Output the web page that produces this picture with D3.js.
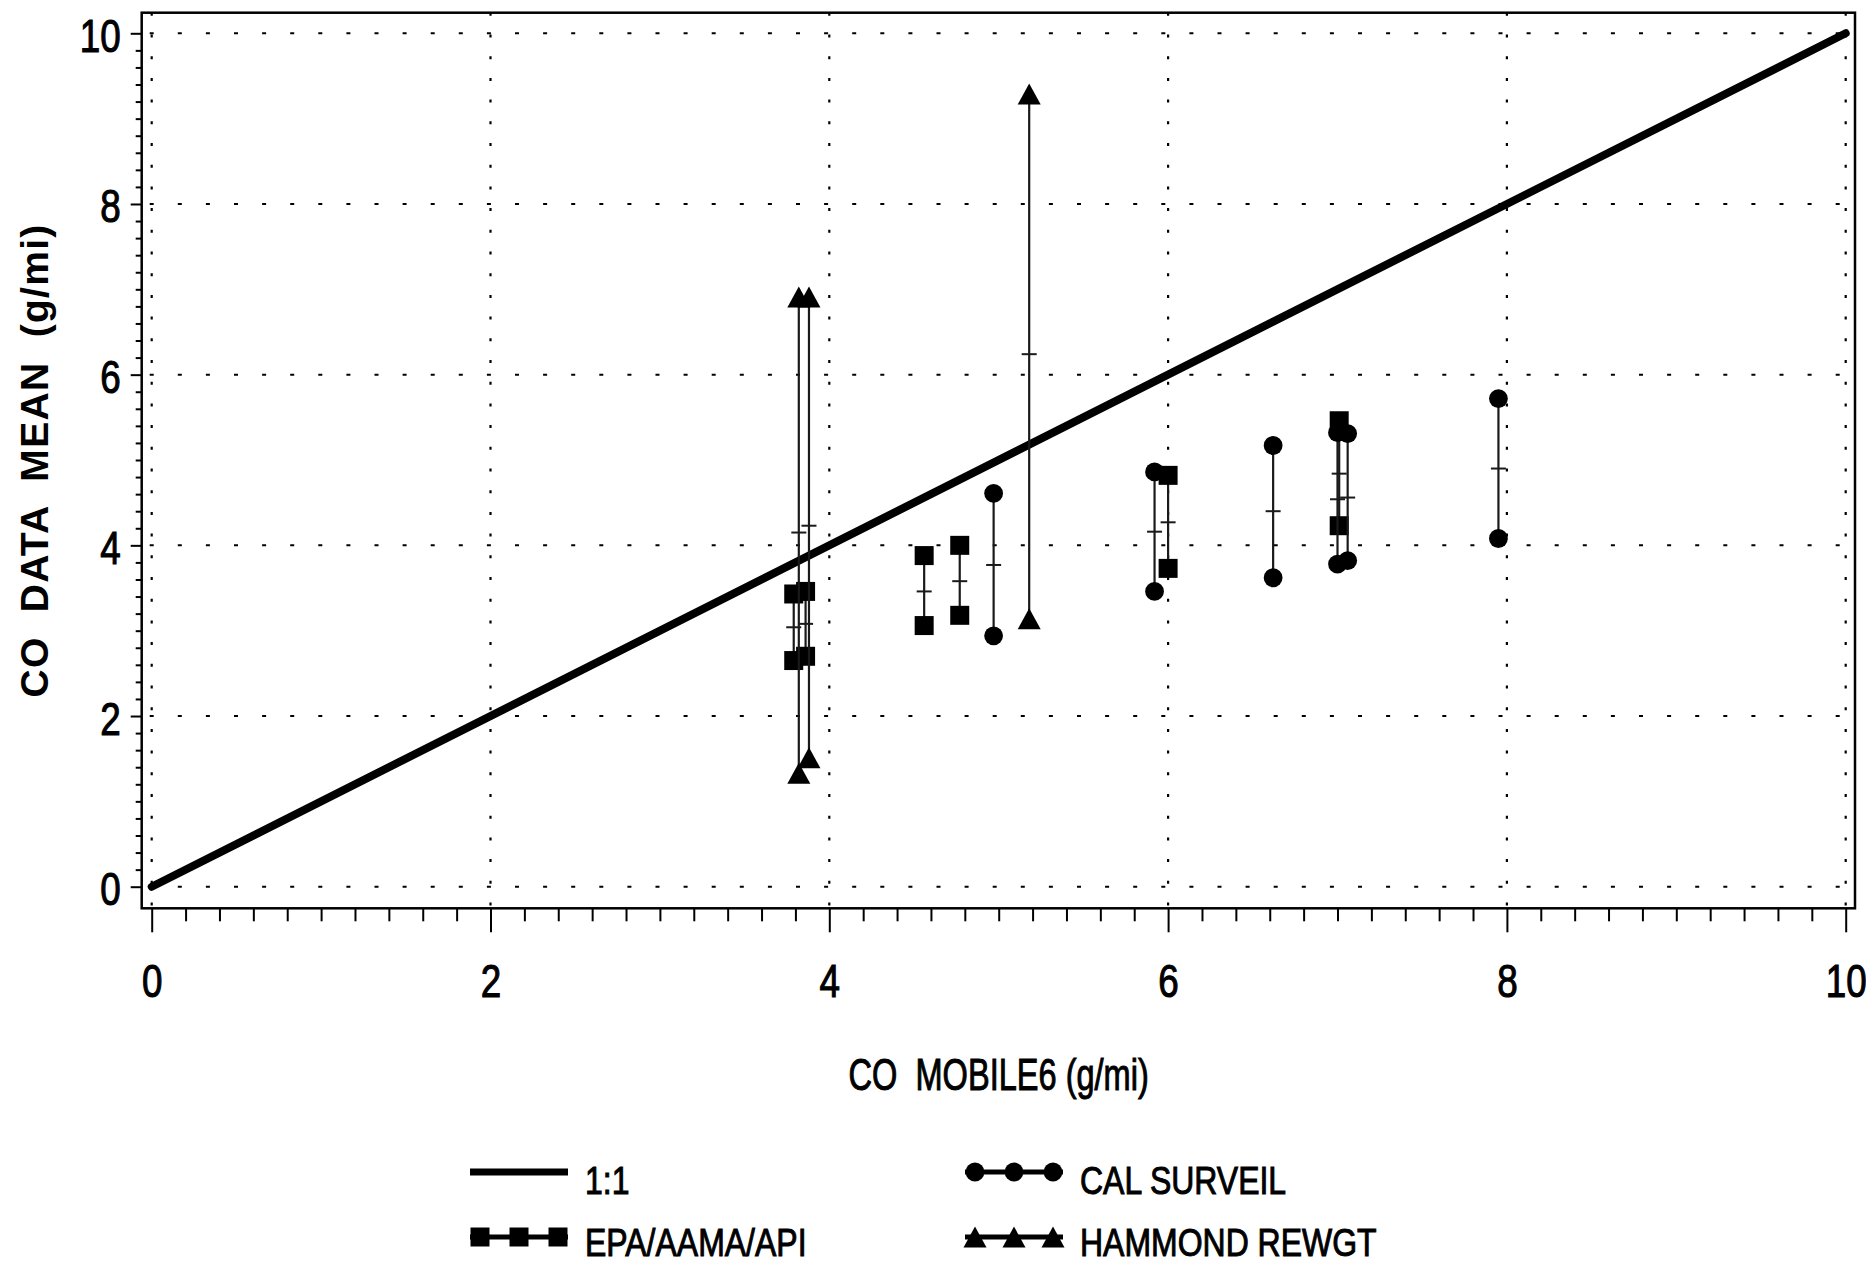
<!DOCTYPE html>
<html><head><meta charset="utf-8">
<script src="https://cdn.jsdelivr.net/npm/d3@7"></script>
<style>
body{margin:0;background:#fff}
svg{display:block}
text{font-family:"Liberation Sans",Arial,sans-serif;fill:#000}
</style>
</head><body>
<svg id="chart" width="1866" height="1264"></svg>
<script>
// ---------- data ----------
const xMajorTicks = [0, 2, 4, 6, 8, 10];
const yMajorTicks = [0, 2, 4, 6, 8, 10];
const xTitle = "CO  MOBILE6 (g/mi)";
const yTitle = "CO  DATA  MEAN  (g/mi)";
const identityLine = [0, 10];

// EPA/AAMA/API (squares)
const epaX    = [3.79, 3.86, 4.56, 4.77, 6.00, 7.01];
const epaHigh = [3.43, 3.46, 3.88, 4.00, 4.82, 5.46];
const epaLow  = [2.65, 2.70, 3.06, 3.18, 3.73, 4.23];
const epaMean = [3.04, 3.08, 3.46, 3.58, 4.27, 4.84];

// CAL SURVEIL (circles)
const calX    = [4.97, 5.92, 6.62, 7.00, 7.06, 7.95];
const calHigh = [4.61, 4.86, 5.17, 5.32, 5.31, 5.72];
const calLow  = [2.94, 3.46, 3.62, 3.78, 3.82, 4.08];
const calMean = [3.77, 4.16, 4.40, 4.54, 4.56, 4.90];

// HAMMOND REWGT (triangles)
const hamX    = [3.82, 3.88, 5.18];
const hamHigh = [6.91, 6.91, 9.29];
const hamLow  = [1.33, 1.51, 3.14];
const hamMean = [4.15, 4.23, 6.24];

const legendNames = ["1:1", "EPA/AAMA/API", "CAL SURVEIL", "HAMMOND REWGT"];
const legendKinds = ["line", "square", "circle", "triangle"];

// ---------- setup ----------
const svg = d3.select("#chart");
const frame = {left: 141.7, right: 1855, top: 12.7, bottom: 908.3};
const x = d3.scaleLinear().domain([0, 10]).range([151.7, 1845.7]);
const y = d3.scaleLinear().domain([0, 10]).range([886.7, 33.3]);

// custom triangle symbol (bbox centred)
const triBox = {
  draw(ctx, size) {
    const w = 23, h = 21;
    ctx.moveTo(0, -h / 2);
    ctx.lineTo(w / 2, h / 2);
    ctx.lineTo(-w / 2, h / 2);
    ctx.closePath();
  }
};
const symbolFor = {
  square: d3.symbol().type(d3.symbolSquare).size(19 * 19),
  circle: d3.symbol().type(d3.symbolCircle).size(Math.PI * 9.4 * 9.4),
  triangle: d3.symbol().type(triBox).size(1)
};

// ---------- gridlines ----------
const grid = svg.append("g");
grid.selectAll("line.h").data(yMajorTicks).join("line")
  .attr("x1", frame.left).attr("x2", frame.right)
  .attr("y1", d => y(d)).attr("y2", d => y(d))
  .attr("stroke", "#000").attr("stroke-width", 2)
  .attr("stroke-dasharray", "4 24.1").attr("stroke-dashoffset", -8);
grid.selectAll("line.v").data(xMajorTicks).join("line")
  .attr("x1", d => x(d)).attr("x2", d => x(d))
  .attr("y1", frame.bottom).attr("y2", frame.top)
  .attr("stroke", "#000").attr("stroke-width", 2.2)
  .attr("stroke-dasharray", "3 18.7").attr("stroke-dashoffset", 18.9);

// ---------- axes ----------
const minorTicks = d3.range(0, 51).map(i => i * 0.2).filter(v => Math.abs(v / 2 - Math.round(v / 2)) > 1e-6);

const xMinor = d3.axisBottom(x).tickValues(minorTicks).tickSize(13).tickFormat("");
const xMajor = d3.axisBottom(x).tickValues(xMajorTicks).tickSize(24).tickFormat(d3.format("d"));
const yMinor = d3.axisLeft(y).tickValues(minorTicks).tickSize(6).tickFormat("");
const yMajor = d3.axisLeft(y).tickValues(yMajorTicks).tickSize(11).tickFormat(d3.format("d"));

function styleAxis(g) {
  g.select(".domain").remove();
  g.selectAll(".tick line").attr("stroke", "#000").attr("stroke-width", 2);
}
svg.append("g").attr("transform", `translate(0,${frame.bottom})`).call(xMinor).call(styleAxis);
const gxM = svg.append("g").attr("transform", `translate(0,${frame.bottom})`).call(xMajor).call(styleAxis);
svg.append("g").attr("transform", `translate(${frame.left},0)`).call(yMinor).call(styleAxis);
const gyM = svg.append("g").attr("transform", `translate(${frame.left},0)`).call(yMajor).call(styleAxis);

gxM.selectAll(".tick text")
  .attr("y", null).attr("dy", null)
  .attr("transform", "translate(0,89) scale(0.8,1)")
  .attr("text-anchor", "middle")
  .style("font-size", "46px").attr("fill", "#000")
  .attr("stroke", "#000").attr("stroke-width", 1.1);
gyM.selectAll(".tick text")
  .attr("x", null).attr("dy", null)
  .attr("transform", "translate(-21,18) scale(0.8,1)")
  .attr("text-anchor", "end")
  .style("font-size", "46px").attr("fill", "#000")
  .attr("stroke", "#000").attr("stroke-width", 1.1);

// ---------- frame ----------
svg.append("rect")
  .attr("x", frame.left).attr("y", frame.top)
  .attr("width", frame.right - frame.left).attr("height", frame.bottom - frame.top)
  .attr("fill", "none").attr("stroke", "#000").attr("stroke-width", 2.5);

// ---------- 1:1 line ----------
svg.append("line")
  .attr("x1", x(identityLine[0])).attr("y1", y(identityLine[0]))
  .attr("x2", x(identityLine[1])).attr("y2", y(identityLine[1]))
  .attr("stroke", "#000").attr("stroke-width", 8).attr("stroke-linecap", "round");

// ---------- series ----------
const series = [
  {kind: "square", xs: epaX, hi: epaHigh, lo: epaLow, mean: epaMean},
  {kind: "circle", xs: calX, hi: calHigh, lo: calLow, mean: calMean},
  {kind: "triangle", xs: hamX, hi: hamHigh, lo: hamLow, mean: hamMean}
];
series.forEach(s => {
  const pts = s.xs.map((xv, i) => ({x: xv, hi: s.hi[i], lo: s.lo[i], m: s.mean[i]}));
  const g = svg.append("g");
  g.selectAll("line.rng").data(pts).join("line")
    .attr("x1", d => x(d.x)).attr("x2", d => x(d.x))
    .attr("y1", d => y(d.lo)).attr("y2", d => y(d.hi))
    .attr("stroke", "#1a1a1a").attr("stroke-width", 2.2);
  g.selectAll("line.mean").data(pts).join("line")
    .attr("x1", d => x(d.x) - 7.5).attr("x2", d => x(d.x) + 7.5)
    .attr("y1", d => y(d.m)).attr("y2", d => y(d.m))
    .attr("stroke", "#1a1a1a").attr("stroke-width", 2);
  const ends = pts.flatMap(d => [{x: d.x, v: d.hi}, {x: d.x, v: d.lo}]);
  g.selectAll("path").data(ends).join("path")
    .attr("d", symbolFor[s.kind])
    .attr("transform", d => `translate(${x(d.x)},${y(d.v)})`)
    .attr("fill", "#000");
});

// ---------- titles ----------
svg.append("text")
  .attr("transform", `translate(${(x(0) + x(10)) / 2},1090) scale(0.74,1)`)
  .attr("text-anchor", "middle")
  .style("font-size", "44px").style("white-space", "pre")
  .attr("stroke", "#000").attr("stroke-width", 1)
  .text(xTitle);
svg.append("text")
  .attr("transform", `translate(48,${(frame.top + frame.bottom) / 2}) rotate(-90)`)
  .attr("text-anchor", "middle")
  .style("font-size", "39px").style("font-weight", "bold").style("white-space", "pre")
  .style("letter-spacing", "1.3px")
  .text(yTitle);

// ---------- legend ----------
const legCols = [470, 965];
const legRows = [1172, 1237];
const legTextX = [585, 1080];
const legTextBase = [1194, 1256];
const legItems = legendNames.map((n, i) => ({name: n, kind: legendKinds[i], col: i < 2 ? 0 : 1, row: i % 2}));
const leg = svg.append("g");
legItems.forEach(it => {
  const x0 = legCols[it.col], yy = legRows[it.row];
  leg.append("line")
    .attr("x1", x0).attr("x2", x0 + 98).attr("y1", yy).attr("y2", yy)
    .attr("stroke", "#000").attr("stroke-width", it.kind === "line" ? 7 : 5);
  if (it.kind !== "line") {
    [10, 49, 88].forEach(off => {
      leg.append("path").attr("d", symbolFor[it.kind])
        .attr("transform", `translate(${x0 + off},${yy})`).attr("fill", "#000");
    });
  }
  leg.append("text")
    .attr("transform", `translate(${legTextX[it.col]},${legTextBase[it.row]}) scale(0.82,1)`)
    .style("font-size", "39px").style("white-space", "pre")
    .attr("stroke", "#000").attr("stroke-width", 1)
    .text(it.name);
});
</script>
</body></html>
